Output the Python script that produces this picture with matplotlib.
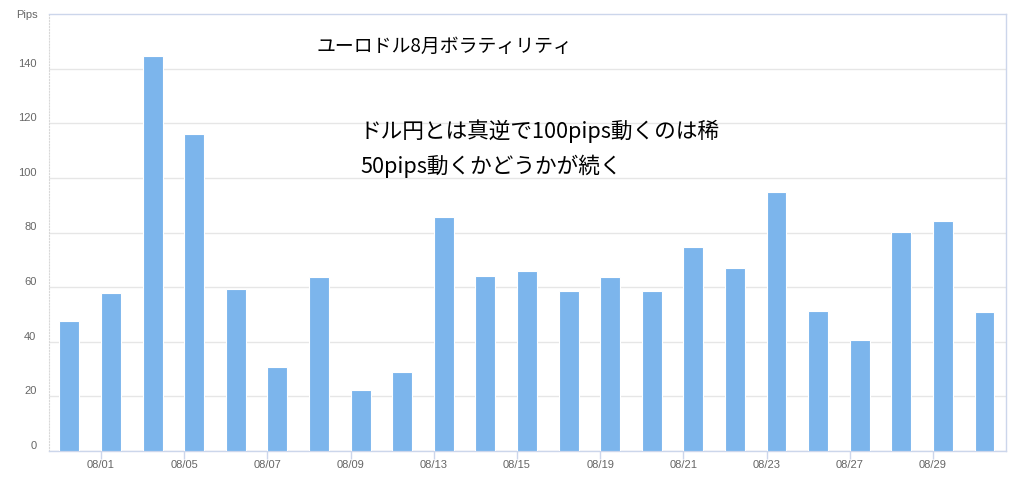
import matplotlib.pyplot as plt

# EUR/USD daily range in August (pips)
dates = ['07/31', '08/01', '08/02', '08/05', '08/06', '08/07', '08/08', '08/09',
         '08/12', '08/13', '08/14', '08/15', '08/16', '08/19', '08/20', '08/21',
         '08/22', '08/23', '08/26', '08/27', '08/28', '08/29', '08/30']
pips = [47.6, 57.8, 144.7, 116.0, 59.2, 30.9, 63.8, 22.4, 29.1, 85.7, 64.2, 65.8,
        58.7, 63.8, 58.5, 74.8, 66.9, 95.0, 51.4, 40.6, 80.3, 84.2, 50.8]
y_ticks = [0, 20, 40, 60, 80, 100, 120, 140]

title = 'ユーロドル8月ボラティリティ'
note1 = 'ドル円とは真逆で100pips動くのは稀'
note2 = '50pips動くかどうかが続く'

jp = ['Noto Sans CJK JP', 'DejaVu Sans']
grey = '#666666'
axis_col = '#ccd6eb'

fig = plt.figure(figsize=(10.24, 4.84), dpi=100)
ax = fig.add_axes([49 / 1024, 33 / 484, 956.7 / 1024, 437 / 484])

x = range(len(dates))
ax.bar(x, pips, width=0.48, align='edge', color='#7cb5ec',
       edgecolor='white', linewidth=0.8, zorder=3)

ax.set_xlim(-0.25, 22.75)
ax.set_ylim(0, 160)

ax.set_yticks(y_ticks)
ax.set_yticklabels([str(v) for v in y_ticks], va='bottom')
ax.set_xticks(list(x)[1::2])
ax.set_xticklabels(dates[1::2])

ax.grid(axis='y', color='#e6e6e6', linewidth=1, zorder=0)
ax.tick_params(axis='y', length=0, pad=9, labelsize=8, labelcolor=grey)
ax.tick_params(axis='x', length=6, width=1, color=axis_col, pad=0.5,
               labelsize=8, labelcolor=grey)
for lbl in ax.get_xticklabels() + ax.get_yticklabels():
    lbl.set_fontfamily('Liberation Sans')

for side in ['top', 'right', 'bottom']:
    ax.spines[side].set_color(axis_col)
    ax.spines[side].set_linewidth(1)
ax.spines['left'].set_color('#d8d8d8')
ax.spines['left'].set_linestyle(':')

fig.text(38 / 1024, 1 - 15 / 484, 'Pips', ha='right', va='center',
         fontsize=8, color=grey, family='Liberation Sans')

fig.text(317 / 1024, 1 - 46 / 484, title, ha='left', va='center',
         fontsize=13.6, color='black', family=jp)
fig.text(360 / 1024, 1 - 131 / 484, note1, ha='left', va='center',
         fontsize=15.6, color='black', family=jp)
fig.text(360 / 1024, 1 - 166 / 484, note2, ha='left', va='center',
         fontsize=15.6, color='black', family=jp)

fig.savefig('out.png', dpi=100)
